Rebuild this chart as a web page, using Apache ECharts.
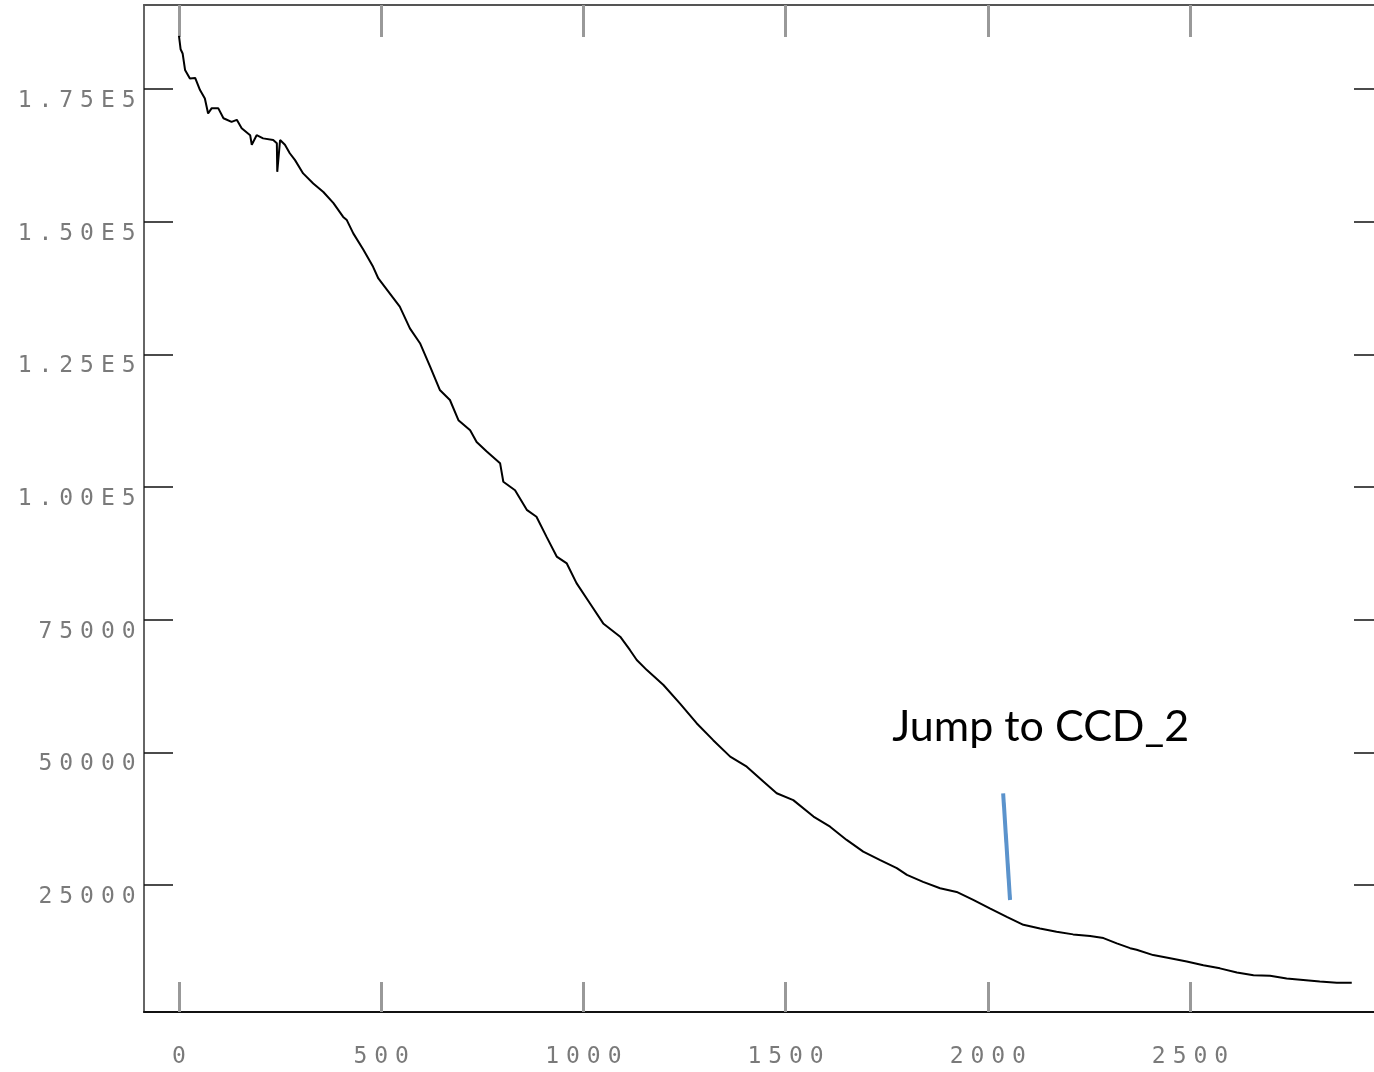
<!DOCTYPE html>
<html>
<head>
<meta charset="utf-8">
<script src="https://cdn.jsdelivr.net/npm/echarts@6/dist/echarts.min.js"></script>
<style>
html,body{margin:0;padding:0;background:#fff;}
#chart{width:1374px;height:1072px;}
</style>
</head>
<body>
<div id="chart"></div>
<script>
// ---- data ----
const xVals = [0,4,9,15,27,40,52,64,72,81,97,110,130,143,155,176,180,192,208,233,242,243,250,262,274,287,307,332,357,382,406,415,431,456,480,493,546,571,596,621,645,670,691,720,736,761,794,802,831,860,884,909,934,959,983,1016,1049,1091,1115,1132,1157,1198,1239,1280,1321,1363,1404,1445,1478,1519,1569,1610,1651,1692,1734,1775,1800,1840,1882,1923,1964,2005,2047,2088,2129,2170,2211,2253,2286,2319,2352,2368,2409,2451,2492,2533,2574,2616,2657,2698,2739,2780,2821,2863,2900];
const yVals = [185000,182500,181700,178600,177000,177100,174800,173200,170400,171400,171400,169500,168800,169200,167600,166300,164500,166300,165700,165400,164800,159400,165400,164500,162900,161600,159100,157200,155600,153500,150900,150300,147800,144700,141500,139300,134000,129900,127100,122700,118300,116400,112600,110700,108500,106700,104500,101000,99400,95700,94400,90600,86900,85600,81900,78100,74300,71800,69300,67400,65500,62700,59200,55500,52300,49200,47300,44500,42300,41000,37900,36000,33500,31300,29700,28200,26900,25600,24400,23700,22200,20600,19000,17500,16800,16200,15700,15400,15000,14000,13100,12800,11800,11200,10600,9900,9300,8500,8000,7900,7400,7100,6800,6600,6600];

const xTicks = [0,500,1000,1500,2000,2500];
const xTickLabels = ['0','500','1000','1500','2000','2500'];
const yTicks = [25000,50000,75000,100000,125000,150000,175000];
const yTickLabels = ['25000','50000','75000','1.00E5','1.25E5','1.50E5','1.75E5'];

const annotationText = 'Jump to CCD_2';
const annotationTextAt = [2131, 54780];
const annotationLineFrom = [2038, 42290];
const annotationLineTo = [2055, 22180];

const xRange = [-86.5, 2955];
const yRange = [1074, 190835];

// ---- build ----
const seriesData = xVals.map((x, i) => [x, yVals[i]]);
function spaced(s) { return s.split('').map(ch => '{c|' + ch + '}').join(''); }
const labelRich = { c: { width: 20.8, align: 'center', fontFamily: 'DejaVu Sans Mono', fontSize: 23, color: '#7a7a7a', lineHeight: 24 } };

const chart = echarts.init(document.getElementById('chart'), null, { renderer: 'canvas' });
chart.setOption({
  animation: false,
  backgroundColor: '#fff',
  grid: { left: 144, top: 5, right: 0, bottom: 60, containLabel: false },
  xAxis: [
    {
      type: 'value', position: 'bottom', min: xRange[0], max: xRange[1],
      axisLine: { show: true, onZero: false, lineStyle: { color: '#111', width: 2 } },
      axisTick: { show: true, inside: true, length: 30, customValues: xTicks, lineStyle: { color: '#999', width: 3 } },
      axisLabel: { show: true, customValues: xTicks, margin: 33,
        formatter: v => spaced(xTickLabels[xTicks.indexOf(v)] || String(v)), rich: labelRich },
      splitLine: { show: false }
    },
    {
      type: 'value', position: 'top', min: xRange[0], max: xRange[1],
      axisLine: { show: true, onZero: false, lineStyle: { color: '#555', width: 2 } },
      axisTick: { show: true, inside: true, length: 32, customValues: xTicks, lineStyle: { color: '#999', width: 3 } },
      axisLabel: { show: false },
      splitLine: { show: false }
    }
  ],
  yAxis: [
    {
      type: 'value', position: 'left', min: yRange[0], max: yRange[1],
      axisLine: { show: true, onZero: false, lineStyle: { color: '#666', width: 2 } },
      axisTick: { show: true, inside: true, length: 29, customValues: yTicks, lineStyle: { color: '#111', width: 1.5 } },
      axisLabel: { show: true, customValues: yTicks, margin: 5, verticalAlign: 'top',
        formatter: v => spaced(yTickLabels[yTicks.indexOf(v)] || String(v)), rich: labelRich },
      splitLine: { show: false }
    },
    {
      type: 'value', position: 'right', min: yRange[0], max: yRange[1],
      axisLine: { show: false, onZero: false },
      axisTick: { show: true, inside: true, length: 20, customValues: yTicks, lineStyle: { color: '#111', width: 1.5 } },
      axisLabel: { show: false },
      splitLine: { show: false }
    }
  ],
  series: [{
    type: 'line',
    xAxisIndex: 0, yAxisIndex: 0,
    data: seriesData,
    showSymbol: false, symbol: 'none',
    lineStyle: { color: '#000', width: 2 },
    clip: true,
    markLine: {
      silent: true, symbol: ['none', 'none'],
      lineStyle: { color: '#5b93cc', width: 4, type: 'solid' },
      label: { show: false },
      data: [[{ coord: annotationLineFrom }, { coord: annotationLineTo }]]
    },
    markPoint: {
      silent: true, symbol: 'circle', symbolSize: 1,
      itemStyle: { color: 'rgba(0,0,0,0)' },
      label: { show: true, position: 'inside', formatter: annotationText,
        fontFamily: 'Lato', fontSize: 43, color: '#000' },
      data: [{ coord: annotationTextAt }]
    }
  }]
});
</script>
</body>
</html>
